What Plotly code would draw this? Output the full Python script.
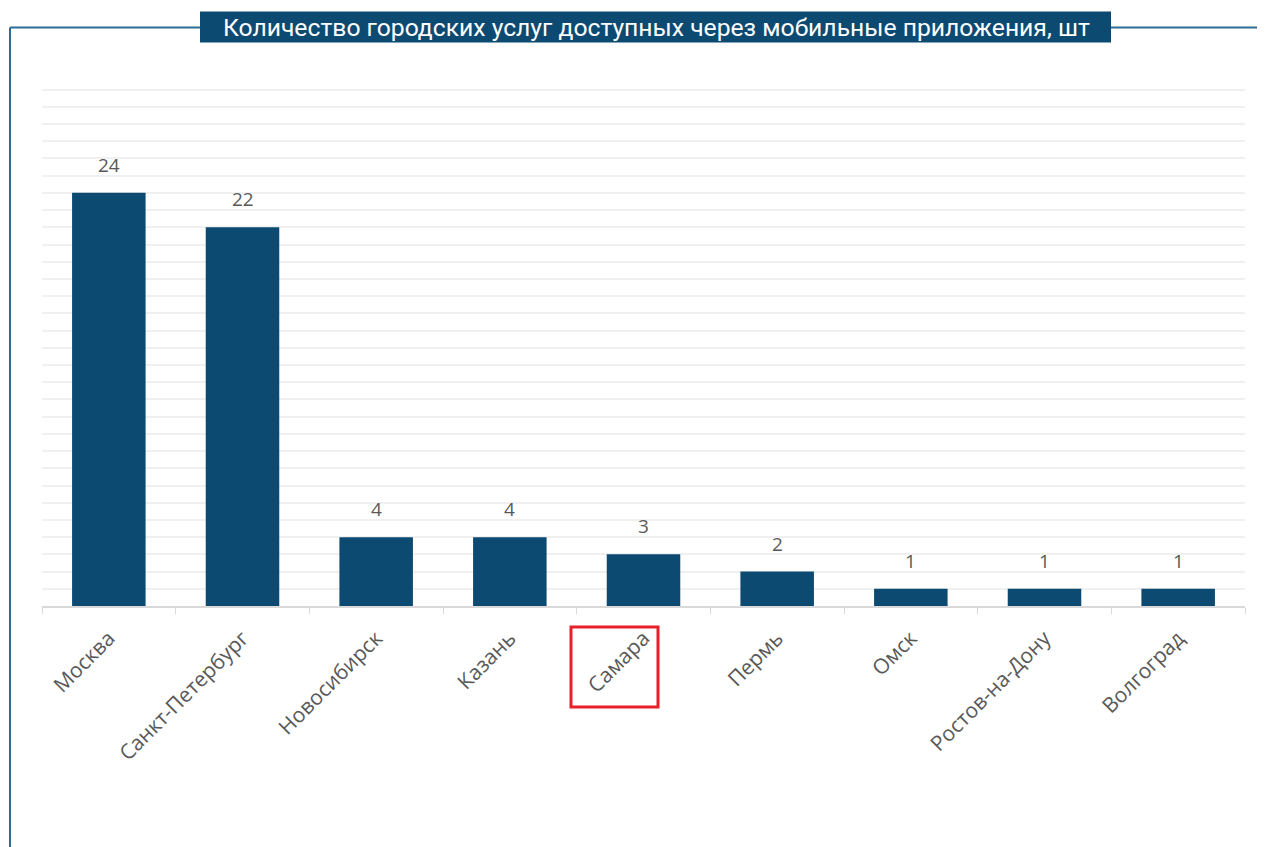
import plotly.graph_objects as go

cities = ["Москва", "Санкт-Петербург", "Новосибирск", "Казань", "Самара",
          "Пермь", "Омск", "Ростов-на-Дону", "Волгоград"]
services = [24, 22, 4, 4, 3, 2, 1, 1, 1]
title_text = "Количество городских услуг доступных через мобильные приложения, шт"

OFF = 8  # page body margin
Y_MAX = 30.15
W, H = 1265 - OFF, 847 - OFF
L, R, B = 42 - OFF, 1245 - OFF, 606 - OFF
T = B - (606 - 90) * Y_MAX / 30
BLUE = "#0d4a72"


def px(x):
    return (x - OFF - L) / (R - L)


def py(y):
    return (B - (y - OFF)) / (B - T)


fig = go.Figure(go.Bar(
    x=cities, y=services, width=0.55,
    marker=dict(color=BLUE, line=dict(width=0)),
    hoverinfo="x+y",
))

value_labels = [dict(
    x=c, y=v, xref="x", yref="y", text=str(v), showarrow=False,
    xanchor="center", yanchor="bottom", yshift=13,
    font=dict(size=19, color="#595959", family="Open Sans"),
) for c, v in zip(cities, services)]

shapes = [
    dict(type="line", xref="paper", yref="paper", x0=px(10), x1=px(10), y0=py(28), y1=py(860),
         line=dict(color="#2f6a94", width=2)),
    dict(type="line", xref="paper", yref="paper", x0=px(10), x1=px(200), y0=py(28), y1=py(28),
         line=dict(color="#2f6a94", width=2)),
    dict(type="line", xref="paper", yref="paper", x0=px(1110), x1=px(1275), y0=py(28), y1=py(28),
         line=dict(color="#2f6a94", width=2)),
    dict(type="rect", xref="paper", yref="paper", x0=px(200), x1=px(1111), y0=py(12), y1=py(43),
         fillcolor=BLUE, line=dict(width=0)),
    dict(type="rect", xref="paper", yref="paper", x0=px(571), x1=px(658), y0=py(627), y1=py(707),
         line=dict(color="#e8202a", width=3), fillcolor="rgba(0,0,0,0)"),
]

fig.update_layout(
    width=W, height=H,
    margin=dict(l=L, r=W - R, t=T, b=H - B, pad=0),
    paper_bgcolor="white", plot_bgcolor="white",
    showlegend=False,
    shapes=shapes,
    annotations=value_labels + [dict(
        text=title_text, xref="paper", yref="paper", x=px(656), y=py(27.5),
        xanchor="center", yanchor="middle", showarrow=False,
        font=dict(size=24.7, color="white", family="Roboto"),
    )],
    font=dict(family="Open Sans", color="#595959"),
)
fig.update_xaxes(
    tickangle=-45, tickfont=dict(size=21, color="#595959", family="Open Sans"),
    ticklabelstandoff=10,
    showline=True, linecolor="#d9d9d9", linewidth=1.5,
    ticks="outside", tickcolor="#d9d9d9", ticklen=6, tickson="boundaries",
    showgrid=False,
)
fig.update_yaxes(
    range=[0, Y_MAX], tick0=0, dtick=1, showticklabels=False,
    showgrid=True, gridcolor="#f0f0f0", gridwidth=1.5,
    zeroline=False, showline=False,
)

fig.write_html("out.html")
